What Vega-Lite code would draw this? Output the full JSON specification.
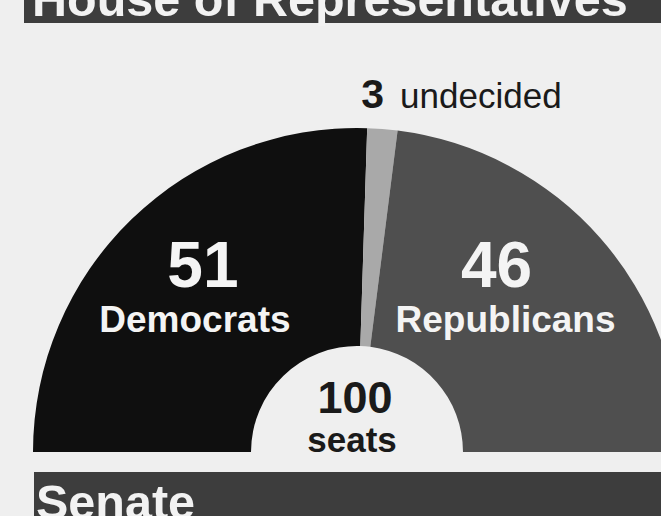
{
  "$schema": "https://vega.github.io/schema/vega-lite/v6.json",
  "background": "#efefef",
  "autosize": "none",
  "padding": 0,
  "width": 661,
  "height": 516,
  "config": {"view": {"stroke": null}},
  "datasets": {
    "seats": [
      {"party": "Democrats", "seats": 51, "seq": 1},
      {"party": "undecided", "seats": 3, "seq": 2},
      {"party": "Republicans", "seats": 46, "seq": 3}
    ],
    "banners": [
      {"section": "House of Representatives"},
      {"section": "Senate"}
    ]
  },
  "layer": [
    {
      "data": {"name": "banners"},
      "mark": {"type": "rect", "color": "#3d3d3d",
        "x": {"expr": "datum.section === 'Senate' ? 34 : 24"},
        "x2": 661,
        "y": {"expr": "datum.section === 'Senate' ? 472 : 0"},
        "y2": {"expr": "datum.section === 'Senate' ? 516 : 23"}},
      "encoding": {}
    },
    {
      "data": {"name": "banners"},
      "mark": {"type": "text", "align": "left", "baseline": "alphabetic", "font": "Liberation Sans", "fontWeight": "bold", "fontSize": 48.5, "color": "#f2f2f2",
        "x": {"expr": "datum.section === 'Senate' ? 36 : 32"},
        "y": {"expr": "datum.section === 'Senate' ? 519 : 16"}},
      "encoding": {"text": {"field": "section", "type": "nominal"}}
    },
    {
      "data": {"name": "seats"},
      "mark": {"type": "arc", "x": 357, "y": 452, "radius": 324, "radius2": 106},
      "encoding": {
        "theta": {"field": "seats", "type": "quantitative", "stack": true, "scale": {"range": [-1.5707963, 1.5707963]}},
        "order": {"field": "seq", "type": "quantitative"},
        "color": {"field": "party", "type": "nominal", "legend": null, "scale": {"domain": ["Democrats", "undecided", "Republicans"], "range": ["#0f0f0f", "#a9a9a9", "#4f4f4f"]}}
      }
    },
    {
      "data": {"name": "seats"},
      "mark": {"type": "text", "x": 357, "y": 452, "radius": 230, "font": "Liberation Sans", "fontWeight": "bold", "fontSize": 64, "align": "center", "baseline": "alphabetic", "color": "#f4f4f4",
        "dx": {"expr": "datum.party === 'Republicans' ? -33 : 6"}, "dy": {"expr": "datum.party === 'Republicans' ? -13 : 0"}},
      "encoding": {
        "theta": {"field": "seats", "type": "quantitative", "stack": true},
        "order": {"field": "seq", "type": "quantitative"},
        "detail": {"field": "party", "type": "nominal"},
        "text": {"condition": {"test": "datum.party !== 'undecided'", "field": "seats", "type": "quantitative"}, "value": ""}
      }
    },
    {
      "data": {"name": "seats"},
      "mark": {"type": "text", "x": 357, "y": 452, "radius": 230, "font": "Liberation Sans", "fontWeight": "bold", "fontSize": 37, "align": "center", "baseline": "alphabetic", "color": "#f4f4f4",
        "dx": {"expr": "datum.party === 'Republicans' ? -24 : -2"}, "dy": {"expr": "datum.party === 'Republicans' ? 32 : 45"}},
      "encoding": {
        "theta": {"field": "seats", "type": "quantitative", "stack": true},
        "order": {"field": "seq", "type": "quantitative"},
        "detail": {"field": "party", "type": "nominal"},
        "text": {"condition": {"test": "datum.party !== 'undecided'", "field": "party", "type": "nominal"}, "value": ""}
      }
    },
    {
      "data": {"name": "seats"},
      "mark": {"type": "text", "x": 357, "y": 452, "radius": 345, "font": "Liberation Sans", "fontWeight": "bold", "fontSize": 41, "align": "right", "baseline": "alphabetic", "color": "#1a1a1a"},
      "encoding": {
        "theta": {"field": "seats", "type": "quantitative", "stack": true},
        "order": {"field": "seq", "type": "quantitative"},
        "detail": {"field": "party", "type": "nominal"},
        "text": {"condition": {"test": "datum.party === 'undecided'", "field": "seats", "type": "quantitative"}, "value": ""}
      }
    },
    {
      "data": {"name": "seats"},
      "mark": {"type": "text", "x": 357, "y": 452, "radius": 345, "font": "Liberation Sans", "fontSize": 35, "align": "left", "baseline": "alphabetic", "dx": 16, "color": "#1a1a1a"},
      "encoding": {
        "theta": {"field": "seats", "type": "quantitative", "stack": true},
        "order": {"field": "seq", "type": "quantitative"},
        "detail": {"field": "party", "type": "nominal"},
        "text": {"condition": {"test": "datum.party === 'undecided'", "field": "party", "type": "nominal"}, "value": ""}
      }
    },
    {
      "data": {"name": "seats"},
      "transform": [{"aggregate": [{"op": "sum", "field": "seats", "as": "total"}]}],
      "mark": {"type": "text", "x": 355, "y": 413, "font": "Liberation Sans", "fontWeight": "bold", "fontSize": 45, "align": "center", "baseline": "alphabetic", "color": "#1a1a1a"},
      "encoding": {"text": {"field": "total", "type": "quantitative"}}
    },
    {
      "data": {"name": "seats"},
      "transform": [{"aggregate": [{"op": "count", "as": "n"}]}],
      "mark": {"type": "text", "x": 352, "y": 452, "font": "Liberation Sans", "fontWeight": "bold", "fontSize": 35, "align": "center", "baseline": "alphabetic", "color": "#1a1a1a"},
      "encoding": {"text": {"value": "seats"}}
    }
  ]
}
